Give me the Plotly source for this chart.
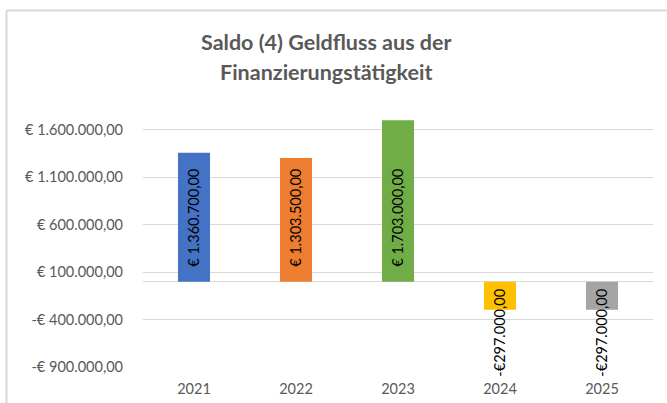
import plotly.graph_objects as go

# ---- data ----
years = ["2021", "2022", "2023", "2024", "2025"]
saldo = [1360700.00, 1303500.00, 1703000.00, -297000.00, -297000.00]
bar_colors = ["#4472C4", "#ED7D31", "#70AD47", "#FFC000", "#A5A5A5"]
tick_values = [-900000, -400000, 100000, 600000, 1100000, 1600000]
tick_labels = ["-€ 900.000,00", "-€ 400.000,00", "€ 100.000,00",
               "€ 600.000,00", "€ 1.100.000,00", "€ 1.600.000,00"]
title_lines = ["Saldo (4) Geldfluss aus der", "Finanzierungstätigkeit"]


def euro(v):
    s = f"{abs(v):,.2f}".replace(",", "X").replace(".", ",").replace("X", ".")
    return ("-€" if v < 0 else "€ ") + s


labels = [euro(v) for v in saldo]

W, H = 667, 403
ML, MR, MT, MB = 143, 14, 111, 36
pw, ph = W - ML - MR, H - MT - MB

FONT = "Lato, 'Open Sans', sans-serif"
GREY = "#595959"

fig = go.Figure(go.Bar(
    x=years, y=saldo,
    marker=dict(color=bar_colors, line=dict(width=0)),
    hoverinfo="skip",
))

# data labels, rotated, anchored at the zero line (x = category index)
for i, (v, lab) in enumerate(zip(saldo, labels)):
    fig.add_annotation(
        x=i, y=0, xref="x", yref="y", text=lab, showarrow=False,
        textangle=-90, xanchor="center",
        yanchor="bottom" if v >= 0 else "top",
        yshift=13 if v >= 0 else -5,
        font=dict(family=FONT, size=14.5, color="#000000"),
    )

fig.update_layout(
    width=W, height=H,
    margin=dict(l=ML, r=MR, t=MT, b=MB, pad=0, autoexpand=False),
    paper_bgcolor="white", plot_bgcolor="white",
    bargap=0.686,
    showlegend=False,
    font=dict(family=FONT, size=14.5, color=GREY),
)
fig.update_yaxes(
    range=[-900000, 1800000], automargin=False,
    tickvals=tick_values, ticktext=tick_labels,
    showgrid=True, gridcolor="#D9D9D9", gridwidth=1,
    zeroline=True, zerolinecolor="#D9D9D9", zerolinewidth=1,
    showline=False, ticks="", ticklabelstandoff=19,
    tickfont=dict(family=FONT, size=14.5, color=GREY),
)
fig.update_xaxes(
    type="category", range=[-0.5, len(years) - 0.5], automargin=False,
    showgrid=False, showline=False, ticks="", ticklabelstandoff=11,
    tickfont=dict(family=FONT, size=14.5, color=GREY),
)


def px2x(p):
    return (p - ML) / pw


def px2y(p):
    return (H - MB - p) / ph


# chart frame (top and left edges visible)
fig.add_shape(type="line", xref="paper", yref="paper",
              x0=px2x(6.5), x1=px2x(667), y0=px2y(10.5), y1=px2y(10.5),
              line=dict(color="#D9D9D9", width=2))
fig.add_shape(type="line", xref="paper", yref="paper",
              x0=px2x(6.5), x1=px2x(6.5), y0=px2y(10.5), y1=px2y(403),
              line=dict(color="#D9D9D9", width=2))

for line, ypx in zip(title_lines, [42, 72]):
    fig.add_annotation(text=f"<b>{line}</b>", xref="paper", yref="paper",
                       x=px2x(326), y=px2y(ypx), showarrow=False,
                       xanchor="center", yanchor="middle",
                       font=dict(family=FONT, size=21.5, color=GREY))

fig.write_html("out.html",
               config={"displayModeBar": False},
               post_script="document.body.style.margin='0px';")
